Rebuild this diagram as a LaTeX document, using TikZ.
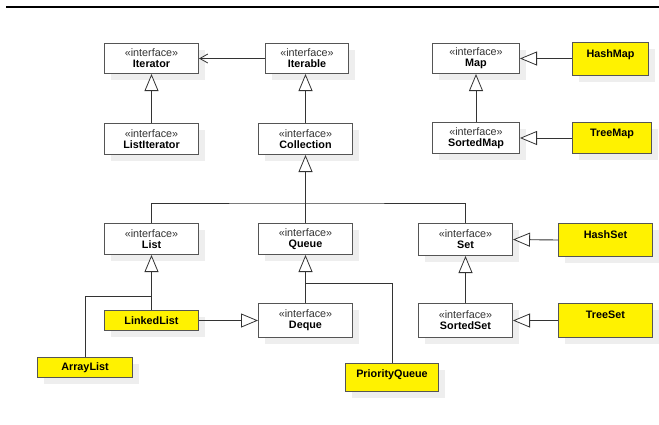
\documentclass[tikz,border=0pt]{standalone}
\usepackage{fontspec}
\setmainfont{Liberation Sans}
\usetikzlibrary{arrows.meta,shadows,positioning}
\definecolor{boxline}{HTML}{555555}
\definecolor{connline}{HTML}{333333}
\definecolor{stereo}{HTML}{333333}
\definecolor{shadowc}{HTML}{EEEEEE}
\tikzset{
  umlbox/.style={draw=boxline, line width=1pt, fill=white, anchor=north west,
    inner sep=0pt, align=center, font=\fontsize{10.8}{11}\selectfont,
    general shadow={fill=shadowc, shadow xshift=6pt, shadow yshift=-6pt}},
  iface/.style={umlbox},
  cls/.style={umlbox, fill=yellow},
  conn/.style={draw=connline, line width=0.9pt},
  gen/.style={conn, -{Triangle[length=17pt,width=14pt,fill=white,line width=0.8pt]}},
  assoc/.style={conn, -{Straight Barb[length=8pt,width=9pt,line width=0.8pt]}},
}
\newcommand{\ifc}[1]{{\color{stereo}«interface»}\\\textbf{#1}}
\newcommand{\clstop}[1]{\textbf{#1}\\\mbox{}}
\begin{document}
\begin{tikzpicture}[x=1pt,y=-1pt]
\useasboundingbox (0,0) rectangle (659,424);
\draw[line width=1.8pt] (6,7) -- (659,7);
% interfaces
\node[iface, minimum width=94pt, minimum height=30pt] (iterator) at (104,43) {\ifc{Iterator}};
\node[iface, minimum width=83pt, minimum height=30pt] (iterable) at (265,43) {\ifc{Iterable}};
\node[iface, minimum width=94pt, minimum height=31pt] (listiter) at (104,123) {\ifc{ListIterator}};
\node[iface, minimum width=94pt, minimum height=31pt] (collection) at (258,123) {\ifc{Collection}};
\node[iface, minimum width=87pt, minimum height=30pt] (map) at (432,43) {\ifc{Map}};
\node[iface, minimum width=87pt, minimum height=31pt] (sortedmap) at (432,122) {\ifc{SortedMap}};
\node[iface, minimum width=94pt, minimum height=31pt] (list) at (104,223) {\ifc{List}};
\node[iface, minimum width=94pt, minimum height=31pt] (queue) at (258,223) {\ifc{Queue}};
\node[iface, minimum width=94pt, minimum height=32pt] (set) at (418,223) {\ifc{Set}};
\node[iface, minimum width=94pt, minimum height=34pt] (deque) at (258,303) {\ifc{Deque}};
\node[iface, minimum width=94pt, minimum height=34pt] (sortedset) at (418,303) {\ifc{SortedSet}};
% classes
\node[cls, minimum width=76pt, minimum height=33pt] (hashmap) at (572,42) {\clstop{HashMap}};
\node[cls, minimum width=79pt, minimum height=31pt] (treemap) at (572,122) {\clstop{TreeMap}};
\node[cls, minimum width=94pt, minimum height=33pt] (hashset) at (558,223) {\clstop{HashSet}};
\node[cls, minimum width=94pt, minimum height=34pt] (treeset) at (558,303) {\clstop{TreeSet}};
\node[cls, minimum width=94pt, minimum height=20pt] (linkedlist) at (104,310) {\textbf{LinkedList}};
\node[cls, minimum width=95pt, minimum height=20pt] (arraylist) at (37,357) {\textbf{ArrayList}};
\node[cls, minimum width=93pt, minimum height=28pt] (pq) at (345,363) {\textbf{PriorityQueue}\\[-3pt]\mbox{}};
% helper coordinates
\coordinate (colbus) at (305,203);
\coordinate (listj) at (151,296);
\coordinate (queuej) at (305,283);
% connectors
\draw[assoc] (iterable.west) -- (iterator.east);
\draw[gen] (listiter.north) -- (iterator.south);
\draw[gen] (collection.north) -- (collection.north |- iterable.south);
\draw[gen] (sortedmap.north) -- (map.south);
\draw[gen] (hashmap.west |- map.east) -- (map.east);
\draw[gen] (treemap.west |- sortedmap.east) -- (sortedmap.east);
\draw[conn] (list.north) |- (colbus) -| (set.north);
\draw[gen] (queue.north) -- (collection.south);
\draw[conn] (arraylist.north) |- (listj);
\draw[gen] (linkedlist.north) -- (list.south);
\draw[gen] (linkedlist.east) -- (deque.west);
\draw[conn] (pq.north) |- (queuej);
\draw[gen] (deque.north) -- (queue.south);
\draw[gen] (hashset.west) -- (set.east);
\draw[gen] (sortedset.north) -- (set.south);
\draw[gen] (treeset.west) -- (sortedset.east);
\end{tikzpicture}
\end{document}
